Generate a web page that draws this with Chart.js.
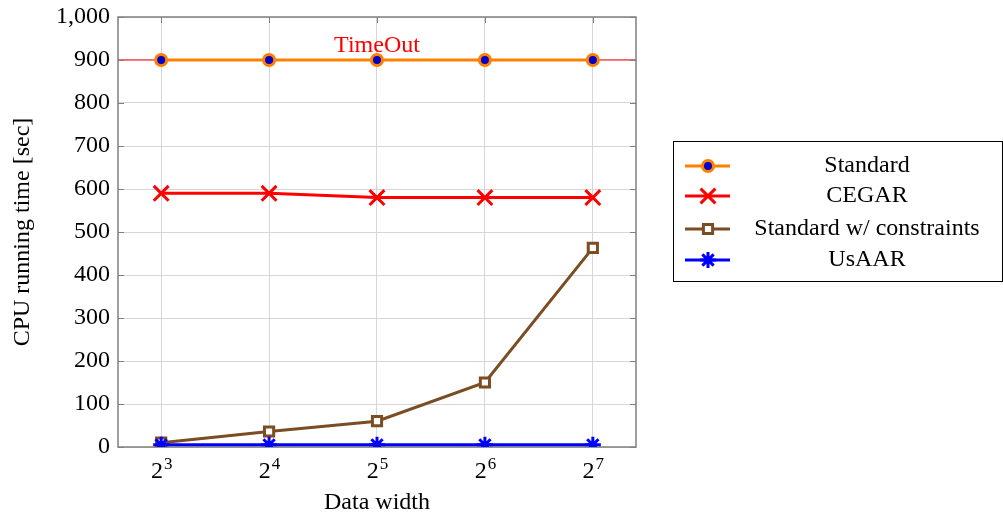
<!DOCTYPE html>
<html>
<head>
<meta charset="utf-8">
<script src="https://cdn.jsdelivr.net/npm/chart.js@4/dist/chart.umd.min.js"></script>
<style>
	html, body { margin: 0; padding: 0; background: #fff; }
	#c { display: block; }
</style>
</head>
<body>
<canvas id="c" width="1003" height="517"></canvas>
<script>
const exponents = [3, 4, 5, 6, 7];
const xTickBase = '2';
const standard = [900, 900, 900, 900, 900];
const cegar = [590, 590, 580, 580, 580];
const standardConstraints = [10, 36, 60, 150, 463];
const usaar = [5, 5, 5, 5, 5];
const timeOut = 900;

const FONT = "'Liberation Serif', 'DejaVu Serif', serif";
const BROWN = '#7a4d22';

function pts(values) {
	return exponents.map((e, i) => ({ x: e, y: values[i] }));
}

// frame, inner ticks, 2^n labels and the TimeOut line, pgfplots style
const framePlugin = {
	id: 'frame',
	beforeDatasetsDraw(chart) {
		const { ctx, chartArea: a, scales } = chart;
		ctx.save();
		const yT = scales.y.getPixelForValue(timeOut);
		ctx.strokeStyle = '#ff0000';
		ctx.lineWidth = 1;
		ctx.beginPath();
		ctx.moveTo(a.left, yT);
		ctx.lineTo(a.right, yT);
		ctx.stroke();
		ctx.fillStyle = '#ff0000';
		ctx.font = '24px ' + FONT;
		ctx.textAlign = 'center';
		ctx.textBaseline = 'alphabetic';
		ctx.fillText('TimeOut', scales.x.getPixelForValue(5), yT - 8);

		ctx.strokeStyle = '#808080';
		ctx.lineWidth = 1;
		exponents.forEach(e => {
			const x = Math.round(scales.x.getPixelForValue(e)) + 0.5;
			ctx.beginPath();
			ctx.moveTo(x, a.top); ctx.lineTo(x, a.top + 6);
			ctx.moveTo(x, a.bottom); ctx.lineTo(x, a.bottom - 6);
			ctx.stroke();
		});
		for (let v = 0; v <= 1000; v += 100) {
			const y = Math.round(scales.y.getPixelForValue(v)) + 0.5;
			ctx.beginPath();
			ctx.moveTo(a.left, y); ctx.lineTo(a.left + 6, y);
			ctx.moveTo(a.right, y); ctx.lineTo(a.right - 6, y);
			ctx.stroke();
		}
		ctx.lineWidth = 1.5;
		ctx.strokeRect(a.left, a.top, a.right - a.left, a.bottom - a.top);

		// x tick labels 2^n
		ctx.fillStyle = '#000';
		ctx.textAlign = 'left';
		exponents.forEach(e => {
			const x = scales.x.getPixelForValue(e);
			ctx.font = '24px ' + FONT;
			const wb = ctx.measureText(xTickBase).width;
			ctx.font = '17px ' + FONT;
			const we = ctx.measureText(String(e)).width;
			const x0 = x - (wb + we) / 2;
			ctx.font = '24px ' + FONT;
			ctx.fillText(xTickBase, x0, a.bottom + 31);
			ctx.font = '17px ' + FONT;
			ctx.fillText(String(e), x0 + wb + 1, a.bottom + 22);
		});
		ctx.restore();
	}
};

// legend box on the right
const legendPlugin = {
	id: 'boxLegend',
	afterDraw(chart) {
		const { ctx } = chart;
		const box = { x: 673.5, y: 141.5, w: 329, h: 140 };
		ctx.save();
		ctx.strokeStyle = '#000';
		ctx.lineWidth = 1;
		ctx.strokeRect(box.x, box.y, box.w, box.h);
		const rows = [166, 196, 229, 260];
		chart.data.datasets.forEach((ds, i) => {
			const y = rows[i];
			ctx.strokeStyle = ds.borderColor;
			ctx.lineWidth = ds.borderWidth;
			ctx.beginPath();
			ctx.moveTo(685, y);
			ctx.lineTo(730, y);
			ctx.stroke();
			ctx.fillStyle = ds.pointBackgroundColor;
			ctx.strokeStyle = ds.pointBorderColor;
			ctx.lineWidth = ds.pointBorderWidth;
			Chart.helpers.drawPoint(ctx, {
				pointStyle: ds.pointStyle,
				radius: ds.pointRadius,
				borderWidth: ds.pointBorderWidth,
				rotation: 0
			}, 708, y);
			ctx.fillStyle = '#000';
			ctx.font = '24px ' + FONT;
			ctx.textAlign = 'center';
			ctx.textBaseline = 'middle';
			ctx.fillText(ds.label, 867, y);
		});
		ctx.restore();
	}
};

new Chart(document.getElementById('c'), {
	type: 'line',
	data: {
		datasets: [{
				label: 'Standard',
				data: pts(standard),
				borderColor: '#ff8000',
				borderWidth: 3,
				pointStyle: 'circle',
				pointRadius: 5.5,
				pointBorderWidth: 3,
				pointBackgroundColor: '#0000c8',
				pointBorderColor: '#ff8000',
				order: 4
			},
			{
				label: 'CEGAR',
				data: pts(cegar),
				borderColor: '#ff0000',
				borderWidth: 3,
				pointStyle: 'crossRot',
				pointRadius: 10.5,
				pointBorderWidth: 3,
				pointBackgroundColor: '#ff0000',
				pointBorderColor: '#ff0000',
				order: 3
			},
			{
				label: 'Standard w/ constraints',
				data: pts(standardConstraints),
				borderColor: BROWN,
				borderWidth: 3,
				pointStyle: 'rect',
				pointRadius: 6.5,
				pointBorderWidth: 3,
				pointBackgroundColor: '#ffffff',
				pointBorderColor: BROWN,
				order: 2
			},
			{
				label: 'UsAAR',
				data: pts(usaar),
				borderColor: '#0000ff',
				borderWidth: 3,
				pointStyle: 'star',
				pointRadius: 8,
				pointBorderWidth: 3,
				pointBackgroundColor: '#0000ff',
				pointBorderColor: '#0000ff',
				order: 1
			}
		]
	},
	options: {
		responsive: false,
		animation: false,
		layout: {
			padding: { top: 17, right: 367, bottom: 0, left: 0 }
		},
		scales: {
			x: {
				type: 'linear',
				min: 2.6,
				max: 7.4,
				afterBuildTicks: s => { s.ticks = exponents.map(v => ({ value: v })); },
				afterFit: s => { s.height = 70; s.paddingLeft = 0; s.paddingRight = 0; },
				ticks: { display: false },
				grid: { color: '#d6d6d6', drawTicks: false },
				border: { display: false },
				title: {
					display: true,
					text: 'Data width',
					color: '#000',
					font: { family: FONT, size: 24 },
					padding: { top: 0, bottom: 0 }
				}
			},
			y: {
				min: 0,
				max: 1000,
				afterFit: s => { s.width = 118; s.paddingTop = 0; s.paddingBottom = 0; },
				ticks: {
					stepSize: 100,
					callback: v => v.toLocaleString('en-US'),
					color: '#000',
					font: { family: FONT, size: 24 },
					padding: 8
				},
				grid: { color: '#d6d6d6', drawTicks: false },
				border: { display: false },
				title: {
					display: true,
					text: 'CPU running time [sec]',
					color: '#000',
					font: { family: FONT, size: 24 },
					padding: { top: 8, bottom: 0 }
				}
			}
		},
		plugins: {
			legend: { display: false },
			tooltip: { enabled: false }
		}
	},
	plugins: [framePlugin, legendPlugin]
});
</script>
</body>
</html>
